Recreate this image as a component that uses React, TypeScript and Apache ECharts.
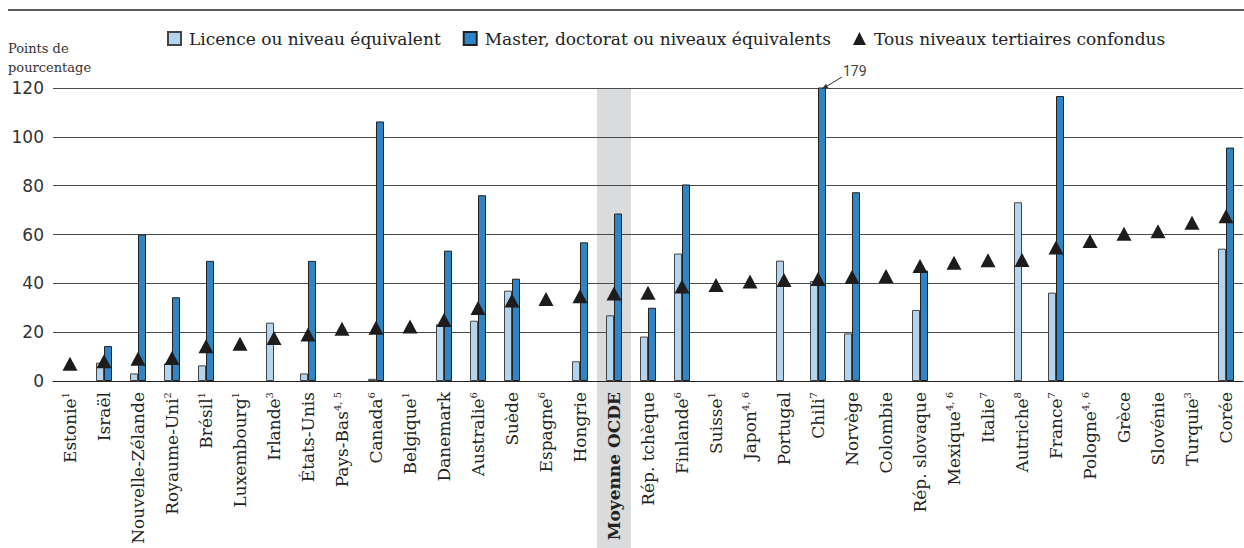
import React, { useEffect, useRef } from "react";
import * as echarts from "echarts";

const countries = [
  "Estonie", "Israël", "Nouvelle-Zélande", "Royaume-Uni", "Brésil", "Luxembourg", "Irlande",
  "États-Unis", "Pays-Bas", "Canada", "Belgique", "Danemark", "Australie", "Suède", "Espagne",
  "Hongrie", "Moyenne OCDE", "Rép. tchèque", "Finlande", "Suisse", "Japon", "Portugal", "Chili",
  "Norvège", "Colombie", "Rép. slovaque", "Mexique", "Italie", "Autriche", "France", "Pologne",
  "Grèce", "Slovénie", "Turquie", "Corée",
];
const notes = [
  "1", "", "", "2", "1", "1", "3", "", "4, 5", "6", "1", "", "6", "", "6", "", "", "", "6", "1",
  "4, 6", "", "7", "", "", "", "4, 6", "7", "8", "7", "4, 6", "", "", "3", "",
];
const licence = [
  null, 7.5, 3.1, 7.2, 6.4, null, 23.9, 3.1, null, 0.9, null, 23.2, 24.7, 37, null, 8.1, 26.9,
  18.2, 52.2, null, null, 49.3, 40.9, 19.5, null, 29.1, null, null, 73.2, 36.2, null, null, null,
  null, 54.2,
];
const master = [
  null, 14.3, 60, 34.3, 49.2, null, null, 49.2, null, 106.3, null, 53.4, 76.1, 41.9, null, 56.8,
  68.6, 30, 80.5, null, null, null, 179, 77.3, null, 45.2, null, null, null, 116.7, null, null,
  null, null, 95.6,
];
const tous = [
  7.1, 8.1, 9.1, 9.4, 14.2, 15.3, 17.6, 19, 21.4, 21.8, 22.3, 25, 29.9, 33, 33.6, 34.7, 35.8,
  36.1, 38.7, 39.3, 40.7, 41.4, 41.8, 42.6, 43, 47.1, 48.4, 49.5, 49.6, 54.7, 57.3, 60.3, 61.3,
  64.8, 67.5,
];
const yTicks = [0, 20, 40, 60, 80, 100, 120];
const seriesNames = [
  "Licence ou niveau équivalent",
  "Master, doctorat ou niveaux équivalents",
  "Tous niveaux tertiaires confondus",
];
const yAxisTitle = "Points de\npourcentage";
const highlighted = "Moyenne OCDE";
const offScaleCountry = "Chili";

const SERIF = "'DejaVu Serif', serif";

export default function App() {
  const ref = useRef<HTMLDivElement>(null);
  useEffect(() => {
    if (!ref.current) return;
    const chart = echarts.init(ref.current, null, { renderer: "svg" });
    const yMax = yTicks[yTicks.length - 1];
    chart.setOption({
      animation: false,
      grid: { left: 53, right: 1, top: 88, bottom: 167, containLabel: false },
      legend: {
        left: 162,
        top: 25,
        itemGap: 22,
        itemWidth: 13,
        itemHeight: 13,
        textStyle: { fontFamily: SERIF, fontSize: 17, color: "#222", padding: [0, 0, 0, 3] },
        data: [
          { name: seriesNames[0], icon: "rect" },
          { name: seriesNames[1], icon: "rect" },
          { name: seriesNames[2], icon: "triangle" },
        ],
      },
      xAxis: {
        type: "category",
        data: countries,
        boundaryGap: true,
        axisLine: { lineStyle: { color: "#222", width: 1 } },
        axisTick: { show: false },
        axisLabel: {
          interval: 0,
          rotate: 90,
          margin: 11,
          color: "#222",
          fontFamily: SERIF,
          fontSize: 17,
          formatter: (v: string, i: number) => {
            if (v === highlighted) return `{b|${v}}`;
            const n = notes[i];
            return n ? `{n|${v}}{s|${n}}` : `{n|${v}}`;
          },
          rich: {
            n: { fontFamily: SERIF, fontSize: 17, color: "#222" },
            b: { fontFamily: SERIF, fontSize: 17, fontWeight: "bold", color: "#222" },
            s: { fontFamily: SERIF, fontSize: 10, color: "#222", verticalAlign: "top", lineHeight: 19 },
          },
        },
      },
      yAxis: {
        type: "value",
        min: 0,
        max: yMax,
        interval: 20,
        axisLine: { show: false },
        axisTick: { show: false },
        axisLabel: { color: "#333", fontFamily: "'DejaVu Sans', sans-serif", fontSize: 17, margin: 9 },
        splitLine: { lineStyle: { color: "#4a4a4a", width: 1 } },
      },
      series: [
        {
          name: seriesNames[0],
          type: "bar",
          data: licence,
          barWidth: 8,
          barGap: "0%",
          clip: true,
          itemStyle: { color: "#b4d3ec", borderColor: "#444", borderWidth: 1 },
          z: 3,
        },
        {
          name: seriesNames[1],
          type: "bar",
          data: master,
          barWidth: 8,
          barGap: "0%",
          clip: true,
          itemStyle: { color: "#2f84c6", borderColor: "#222", borderWidth: 1 },
          z: 3,
        },
        {
          name: seriesNames[2],
          type: "scatter",
          data: tous,
          symbol: "triangle",
          symbolSize: [15, 14],
          itemStyle: { color: "#1e1b1c", opacity: 1 },
          z: 5,
        },
      ],
    });

    const ci = countries.indexOf(highlighted);
    const cx = chart.convertToPixel({ xAxisIndex: 0 }, ci) as number;
    const topY = chart.convertToPixel({ yAxisIndex: 0 }, yMax) as number;
    const bandW = 1190 / countries.length;
    const chIdx = countries.indexOf(offScaleCountry);
    const chX = (chart.convertToPixel({ xAxisIndex: 0 }, chIdx) as number) + 4;
    const tipY = topY + 1;
    const tailX = chX + 20;
    const tailY = topY - 11;
    const ang = Math.atan2(tipY - tailY, chX - tailX);
    const ah = 6;
    const aw = 2.5;
    const bx = chX - ah * Math.cos(ang);
    const by = tipY - ah * Math.sin(ang);
    chart.setOption({
      graphic: [
        {
          type: "rect",
          z: -10,
          zlevel: 0,
          silent: true,
          shape: { x: cx - bandW / 2, y: topY, width: bandW, height: 548 - topY },
          style: { fill: "#dadbdd" },
        },
        {
          type: "line",
          silent: true,
          shape: { x1: 8, y1: 10, x2: 1244, y2: 10 },
          style: { stroke: "#5a5a5a", lineWidth: 2 },
        },
        {
          type: "text",
          left: 8,
          top: 39,
          silent: true,
          style: { text: yAxisTitle, fontFamily: SERIF, fontSize: 13, lineHeight: 19, fill: "#333" },
        },
        {
          type: "line",
          silent: true,
          z: 10,
          shape: { x1: tailX, y1: tailY, x2: bx, y2: by },
          style: { stroke: "#333", lineWidth: 1 },
        },
        {
          type: "polygon",
          silent: true,
          z: 10,
          shape: {
            points: [
              [chX, tipY],
              [bx + aw * Math.sin(ang), by - aw * Math.cos(ang)],
              [bx - aw * Math.sin(ang), by + aw * Math.cos(ang)],
            ],
          },
          style: { fill: "#333" },
        },
        {
          type: "text",
          silent: true,
          z: 10,
          x: tailX + 1,
          y: tailY - 13,
          style: { text: "179", fontFamily: "'Roboto', sans-serif", fontSize: 14, fill: "#444" },
        },
      ],
    });
    return () => chart.dispose();
  }, []);
  return (
    <div
      ref={ref}
      style={{ position: "absolute", left: 0, top: 0, width: 1244, height: 548, background: "#fff" }}
    />
  );
}
